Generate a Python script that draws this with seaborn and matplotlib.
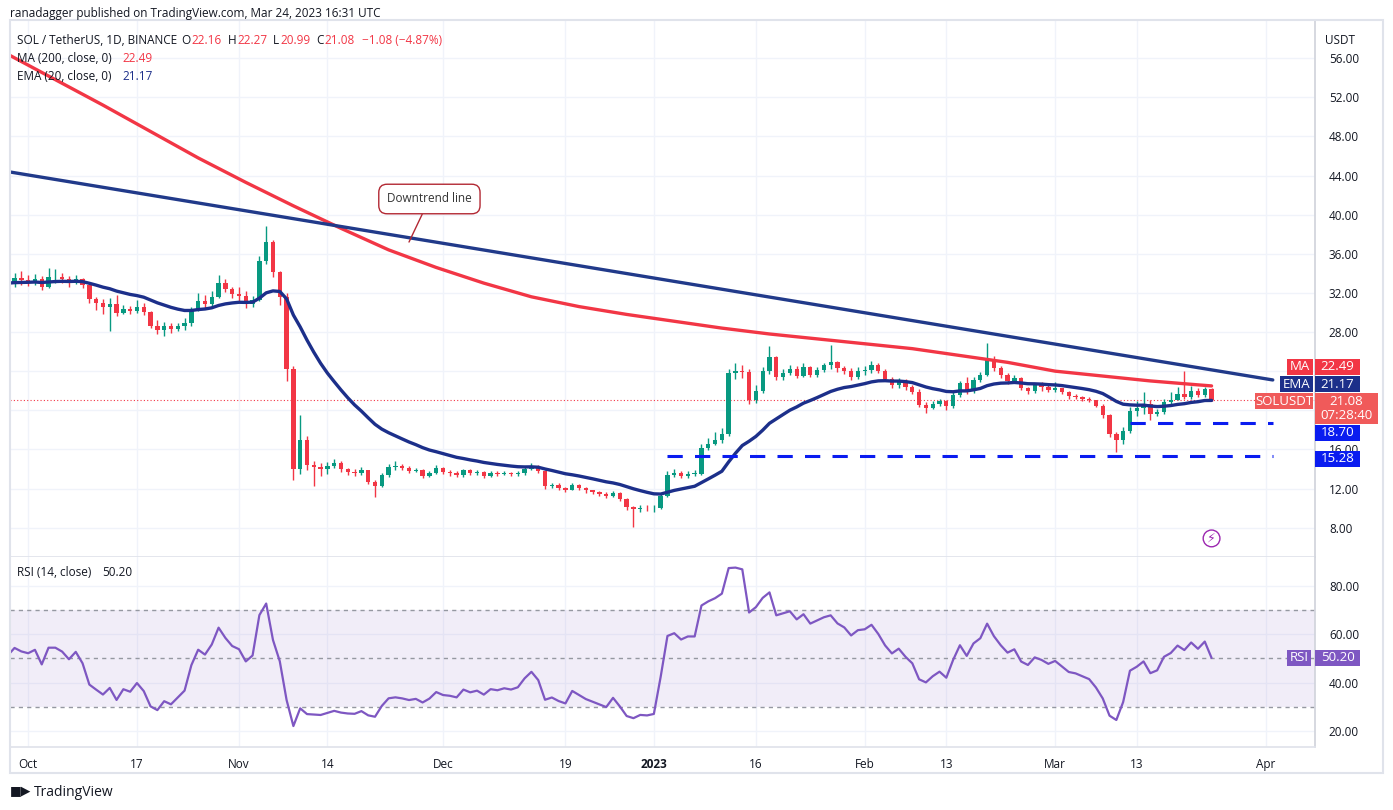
import numpy as np
import pandas as pd
import matplotlib.pyplot as plt
import matplotlib.dates as mdates
import seaborn as sns
from matplotlib.patches import Rectangle

sns.set_theme(style="white")
plt.rcParams['font.family'] = ['Open Sans', 'DejaVu Sans']

# ---- daily candles, Sep 28 2022 .. Mar 24 2023 (open = previous close) ----
first_open = 32.8
c_sep = [33.0, 33.5, 33.3]
h_sep = [33.8, 34.0, 34.2]
l_sep = [32.3, 32.6, 32.8]
c_oct = [33.2, 33.4, 32.6, 33.6, 33.6, 33.4, 33.0, 33.4, 32.8, 31.4, 31.0, 30.6, 30.9, 29.9, 30.4, 30.2,
         30.6, 30.0, 28.6, 28.2, 28.6, 28.3, 28.6, 28.9, 30.2, 31.2, 30.9, 31.6, 33.0, 32.4, 31.9]
h_oct = [33.8, 33.9, 33.7, 34.5, 34.4, 34.0, 33.7, 33.8, 33.5, 33.1, 31.6, 31.4, 31.5, 31.8, 30.8, 30.7,
         31.3, 31.0, 30.2, 29.2, 29.0, 28.9, 28.9, 29.4, 30.6, 32.0, 31.8, 32.2, 33.8, 33.4, 32.6]
l_oct = [32.7, 32.8, 32.3, 32.5, 33.0, 33.0, 32.6, 32.9, 32.5, 31.0, 30.3, 29.8, 28.1, 29.6, 29.8, 29.8,
         29.9, 29.7, 28.4, 27.8, 27.6, 27.9, 28.1, 28.2, 28.6, 30.1, 30.4, 30.6, 31.5, 32.1, 31.5]
c_nov = [31.7, 30.9, 31.3, 35.3, 37.2, 34.1, 31.6, 24.2, 14.0, 17.0, 14.4, 14.2, 14.0, 14.3, 14.6,
         14.0, 13.7, 13.6, 13.9, 12.7, 12.3, 13.4, 14.2, 14.3, 14.1, 13.8, 13.9, 13.3, 13.6, 14.1]
h_nov = [32.6, 32.2, 31.7, 35.8, 38.8, 37.4, 34.2, 32.0, 24.5, 19.5, 17.4, 14.8, 14.6, 14.7, 15.0,
         14.8, 14.1, 14.0, 14.2, 13.9, 12.9, 13.6, 14.5, 14.8, 14.5, 14.3, 14.1, 14.0, 13.8, 14.4]
l_nov = [31.2, 30.5, 30.6, 31.2, 35.0, 33.6, 30.8, 23.0, 12.9, 13.5, 13.9, 12.3, 13.3, 13.5, 14.1,
         13.7, 13.4, 13.3, 13.4, 12.5, 11.1, 12.2, 13.2, 13.9, 13.9, 13.6, 13.7, 13.1, 13.2, 13.5]
c_dec = [13.7, 13.6, 13.4, 13.9, 13.6, 13.7, 13.3, 13.6, 13.5, 13.6, 13.5, 13.6, 14.0, 14.3, 13.8, 12.3,
         12.4, 12.1, 11.9, 12.4, 12.1, 11.8, 11.6, 11.4, 11.2, 11.5, 10.9, 10.1, 9.9, 10.0, 9.96]
h_dec = [14.2, 13.9, 13.8, 14.0, 14.0, 13.9, 13.8, 13.8, 13.8, 13.8, 13.7, 13.8, 14.2, 14.6, 14.4, 13.9,
         12.6, 12.6, 12.2, 12.6, 12.5, 12.2, 11.9, 11.7, 11.6, 11.7, 11.6, 11.0, 10.2, 10.3, 10.3]
l_dec = [13.5, 13.3, 13.2, 13.2, 13.4, 13.4, 13.1, 13.2, 13.3, 13.4, 13.3, 13.3, 13.4, 13.9, 13.6, 12.0,
         12.1, 11.8, 11.6, 11.8, 11.9, 11.5, 11.4, 11.2, 11.0, 11.1, 10.7, 9.8, 8.1, 9.6, 9.7]
c_jan = [10.0, 11.2, 13.4, 13.6, 13.3, 13.5, 13.5, 16.1, 16.6, 17.0, 17.6, 23.8, 24.0, 23.9, 21.0, 22.0,
         24.0, 25.4, 23.4, 23.8, 24.2, 23.5, 24.4, 23.6, 24.1, 24.6, 24.9, 24.3, 24.0, 23.4, 24.0]
h_jan = [10.3, 11.5, 13.8, 14.0, 13.8, 13.8, 13.9, 16.6, 17.2, 17.8, 18.2, 24.2, 24.8, 24.6, 24.2, 22.6,
         24.4, 26.6, 25.6, 24.2, 24.6, 24.5, 24.8, 24.5, 24.4, 24.8, 26.7, 25.0, 24.5, 24.3, 24.4]
l_jan = [9.6, 9.9, 11.1, 13.2, 13.1, 13.1, 13.3, 13.4, 15.9, 16.4, 16.7, 17.4, 23.2, 23.3, 20.6, 20.7,
         21.8, 23.7, 23.1, 23.1, 23.6, 23.3, 23.4, 23.4, 23.4, 23.9, 24.2, 23.9, 23.7, 23.1, 23.2]
c_feb = [24.1, 24.6, 24.0, 23.2, 22.6, 23.0, 22.4, 21.9, 20.5, 20.2, 20.6, 20.9, 20.4, 21.6, 22.8, 22.0,
         23.1, 23.6, 25.2, 24.3, 23.6, 23.0, 23.3, 22.3, 22.0, 22.6, 22.4, 22.1]
h_feb = [24.5, 25.0, 24.8, 24.2, 23.4, 23.3, 23.2, 22.6, 22.2, 20.8, 20.9, 21.2, 21.0, 21.9, 23.0, 23.4,
         23.4, 23.9, 26.9, 25.6, 24.5, 23.8, 23.6, 23.4, 22.4, 22.8, 22.9, 22.6]
l_feb = [23.6, 23.8, 23.8, 23.0, 22.3, 22.3, 22.1, 21.7, 20.3, 19.7, 20.1, 20.4, 20.0, 20.2, 21.4, 21.7,
         21.8, 22.9, 23.5, 24.0, 23.3, 22.7, 22.8, 22.1, 21.7, 21.8, 22.0, 21.9]
c_mar = [22.3, 21.9, 21.5, 21.4, 21.2, 21.0, 20.4, 19.5, 17.6, 17.0, 17.9, 19.9, 20.2, 20.6, 19.6, 19.8,
         20.8, 21.1, 21.7, 21.4, 22.0, 21.6, 22.16, 21.08]
h_mar = [22.9, 22.3, 22.0, 21.7, 21.5, 21.4, 21.1, 20.6, 19.6, 17.8, 18.3, 20.3, 20.9, 21.9, 21.0, 20.1,
         21.2, 21.9, 22.4, 24.0, 22.5, 22.3, 22.4, 22.27]
l_mar = [21.9, 21.7, 21.2, 21.2, 20.9, 20.8, 20.3, 19.2, 17.3, 15.7, 16.6, 17.7, 19.4, 19.6, 19.0, 19.4,
         19.6, 20.6, 21.0, 21.2, 21.2, 21.4, 21.4, 20.99]
rsi_seed_gain, rsi_seed_loss = 0.30, 0.30   # Wilder averages carried in from before the window

# 200-day MA
ma_dates = ['2022-09-28', '2022-10-05', '2022-10-12', '2022-10-19', '2022-10-26', '2022-11-02',
            '2022-11-09', '2022-11-16', '2022-11-23', '2022-11-30', '2022-12-07', '2022-12-14',
            '2022-12-21', '2022-12-28', '2023-01-04', '2023-01-11', '2023-01-18', '2023-01-25',
            '2023-02-01', '2023-02-08', '2023-02-15', '2023-02-22', '2023-03-01', '2023-03-08',
            '2023-03-15', '2023-03-22', '2023-03-24']
ma_vals = [56.4, 53.8, 51.2, 48.5, 45.8, 43.3, 40.9, 38.6, 36.4, 34.6, 33.0, 31.6, 30.6, 29.8,
           29.1, 28.4, 27.8, 27.3, 26.8, 26.3, 25.6, 24.9, 24.0, 23.5, 23.0, 22.6, 22.49]

trend_dates = ['2022-09-28', '2023-04-02']
trend_vals = [44.4, 23.1]
support_18 = ('2023-03-12', 18.70)
support_15 = ('2023-01-03', 15.28)
line_end = '2023-04-02'

# 20.00 and 24.00 sit behind the value boxes on the original, so they are not shown
price_ticks = [8, 12, 16, 28, 32, 36, 40, 44, 48, 52, 56]
grid_ticks = [8, 12, 16, 20, 24, 28, 32, 36, 40, 44, 48, 52, 56]
rsi_ticks = [20, 40, 60, 80]
date_ticks = ['2022-10-01', '2022-10-17', '2022-11-01', '2022-11-14', '2022-12-01', '2022-12-19',
              '2023-01-01', '2023-01-16', '2023-02-01', '2023-02-13', '2023-03-01', '2023-03-13',
              '2023-04-01']
date_labels = ['Oct', '17', 'Nov', '14', 'Dec', '19', '2023', '16', 'Feb', '13', 'Mar', '13', 'Apr']

closes = np.array(c_sep + c_oct + c_nov + c_dec + c_jan + c_feb + c_mar)
highs = np.array(h_sep + h_oct + h_nov + h_dec + h_jan + h_feb + h_mar)
lows = np.array(l_sep + l_oct + l_nov + l_dec + l_jan + l_feb + l_mar)
opens = np.concatenate([[first_open], closes[:-1]])
dates = pd.date_range('2022-09-28', periods=len(closes), freq='D')
df = pd.DataFrame({'date': dates, 'open': opens, 'high': highs, 'low': lows, 'close': closes})
df['ema20'] = df['close'].ewm(span=20, adjust=False).mean()

# Wilder RSI(14)
ag, al = rsi_seed_gain, rsi_seed_loss
rsi = []
for d in np.diff(np.concatenate([[first_open], closes])):
    ag = (ag * 13 + max(d, 0)) / 14
    al = (al * 13 + max(-d, 0)) / 14
    rsi.append(100 - 100 / (1 + ag / al))
df['rsi'] = rsi

GREEN, RED = '#089981', '#f23645'
MA_C, EMA_C, TREND_C, LVL_C, RSI_C = '#f23645', '#1c2f8a', '#213a8a', '#0a1cf0', '#7e57c2'
W, H = 1393, 810

fig = plt.figure(figsize=(W / 100, H / 100), dpi=100)
def frac(x0, y0, x1, y1):
    return [x0 / W, 1 - y1 / H, (x1 - x0) / W, (y1 - y0) / H]

ax = fig.add_axes(frac(10, 20, 1315, 557))
ax2 = fig.add_axes(frac(10, 557, 1315, 747), sharex=ax)
fig.patches.append(Rectangle((10 / W, 1 - 773 / H), 1373 / W, 753 / H, transform=fig.transFigure,
                             fill=False, ec='#e0e3eb', lw=1.5))

xnum = mdates.date2num(df['date'])
for xv, o, h, l, c in zip(xnum, df.open, df.high, df.low, df.close):
    col = GREEN if c >= o else RED
    ax.vlines(xv, l, h, color=col, lw=1, zorder=3)
    ax.add_patch(Rectangle((xv - 0.32, min(o, c)), 0.64, max(abs(c - o), 0.05),
                           color=col, zorder=4, lw=0))

sns.lineplot(x=pd.to_datetime(ma_dates), y=ma_vals, ax=ax, color=MA_C, lw=2.4, zorder=5)
sns.lineplot(x=df['date'], y=df['ema20'], ax=ax, color=EMA_C, lw=2.4, zorder=5)
ax.plot(pd.to_datetime(trend_dates), trend_vals, color=TREND_C, lw=2.4, zorder=5)
for d0, v in [support_18, support_15]:
    ax.plot(pd.to_datetime([d0, line_end]), [v, v], color=LVL_C, lw=2.2, ls=(0, (5, 4)), zorder=5)
ax.axhline(closes[-1], color=RED, lw=0.8, ls=(0, (1, 2)), zorder=2)

ax.annotate('Downtrend line', xy=(pd.Timestamp('2022-11-26'), 37.2),
            xytext=(pd.Timestamp('2022-11-29'), 41.6), ha='center', va='center', fontsize=8.5,
            color='#333', zorder=8,
            bbox=dict(boxstyle='round,pad=0.7', fc='white', ec='#b22833', lw=1),
            arrowprops=dict(arrowstyle='-', color='#b22833', lw=1, shrinkA=0, shrinkB=0))

xmin = pd.Timestamp('2022-09-28 08:00')
xmax = pd.Timestamp('2023-04-08 05:00')
ax.set_xlim(xmin, xmax)
ax.set_ylim(5.0, 59.9)
ax.yaxis.tick_right()
ax.set_yticks(price_ticks)
ax.set_yticklabels([f'{t:.2f}' for t in price_ticks], fontsize=8.5, color='#131722')
ax.set_yticks(grid_ticks, minor=True)
ax.tick_params(axis='y', which='both', length=0, pad=10)
ax.tick_params(axis='x', length=0, labelbottom=False)
ax.set_xticks(pd.to_datetime(date_ticks))
ax.grid(True, which='both', color='#f0f3fa', lw=1)
for s in ['top', 'left']:
    ax.spines[s].set_visible(False)
ax.spines['right'].set_color('#d1d4dc')
ax.spines['bottom'].set_color('#e0e3eb')
ax.set_xlabel('')
ax.set_ylabel('')

# RSI panel
ax2.axhspan(30, 70, color=RSI_C, alpha=0.1, lw=0)
for lv in [30, 50, 70]:
    ax2.axhline(lv, color='#9598a1', lw=1, ls=(0, (3, 3)))
sns.lineplot(x=df['date'], y=df['rsi'], ax=ax2, color=RSI_C, lw=1.6)
ax2.set_ylim(13.5, 91.8)
ax2.yaxis.tick_right()
ax2.set_yticks(rsi_ticks)
ax2.set_yticklabels([f'{t:.2f}' for t in rsi_ticks], fontsize=8.5, color='#131722')
ax2.tick_params(axis='y', length=0, pad=10)
ax2.set_xticks(pd.to_datetime(date_ticks))
ax2.set_xticklabels(date_labels, fontsize=8.5, color='#131722')
ax2.get_xticklabels()[6].set_fontweight('bold')
ax2.tick_params(axis='x', length=0, pad=8)
ax2.grid(True, color='#f0f3fa', lw=1)
for s in ['top', 'left']:
    ax2.spines[s].set_visible(False)
ax2.spines['right'].set_color('#d1d4dc')
ax2.spines['bottom'].set_color('#e0e3eb')
ax2.set_xlabel('')
ax2.set_ylabel('')
ax2.set_xlim(xmin, xmax)

# price-scale label boxes, in figure pixels (stacked the way the terminal stacks them)
def box(x0, x1, y0, y1, txt, fc, fs=9.5, tc='white'):
    ax2.add_patch(Rectangle((x0 / W, 1 - y1 / H), (x1 - x0) / W, (y1 - y0) / H,
                            transform=fig.transFigure, fc=fc, ec='none', zorder=20, clip_on=False))
    ax2.text((x0 + x1) / 2 / W, 1 - (y0 + y1) / 2 / H, txt, ha='center', va='center', color=tc,
             fontsize=fs, zorder=21, linespacing=1.15, transform=fig.transFigure, clip_on=False)

rsi_last = df['rsi'].iloc[-1]
rsi_y = H - ax2.transData.transform((0, rsi_last))[1]
box(1287, 1313, 359, 375, 'MA', MA_C)
box(1315, 1360, 359, 375, '22.49', MA_C)
box(1280, 1313, 376, 392, 'EMA', EMA_C)
box(1315, 1360, 376, 392, '21.17', EMA_C)
box(1255, 1313, 393, 409, 'SOLUSDT', '#f05a5a')
box(1315, 1378, 393, 424, '21.08\n07:28:40', '#f05a5a')
box(1315, 1360, 425, 441, '18.70', LVL_C)
box(1315, 1360, 451, 467, '15.28', LVL_C)
box(1287, 1311, rsi_y - 8, rsi_y + 8, 'RSI', RSI_C)
box(1315, 1360, rsi_y - 8, rsi_y + 8, f'{rsi_last:.2f}', RSI_C)

def ftext(x, y, s, color='#131722', fs=8.5, **kw):
    fig.text(x / W, 1 - y / H, s, color=color, fontsize=fs, va='center', **kw)

ftext(1325, 40, 'USDT')
ftext(10, 13, 'ranadagger published on TradingView.com, Mar 24, 2023 16:31 UTC', fs=8.5)
ftext(17, 41, 'SOL / TetherUS, 1D, BINANCE')
ftext(181, 41, 'O'); ftext(191, 41, '22.16', RED)
ftext(228, 41, 'H'); ftext(237, 41, '22.27', RED)
ftext(273, 41, 'L'); ftext(280, 41, '20.99', RED)
ftext(316, 41, 'C'); ftext(324, 41, '21.08', RED)
ftext(362, 41, '\u22121.08 (\u22124.87%)', RED)
ftext(17, 59, 'MA (200, close, 0)'); ftext(122, 59, '22.49', RED)
ftext(17, 76, 'EMA (20, close, 0)'); ftext(122, 76, '21.17', EMA_C)
ftext(17, 572, 'RSI (14, close)'); ftext(102, 572, f'{rsi_last:.2f}')
ftext(10, 792, '\u25a0\u25b6', fs=9, fontweight='bold')
ftext(34, 792, 'TradingView', fs=10)
ax.text(pd.Timestamp('2023-03-24'), 6.9, '\u26a1', fontsize=9, color='#9c27b0', ha='center',
        va='center', bbox=dict(boxstyle='circle,pad=0.15', fc='white', ec='#9c27b0'))

fig.savefig('out.png', dpi=100)
